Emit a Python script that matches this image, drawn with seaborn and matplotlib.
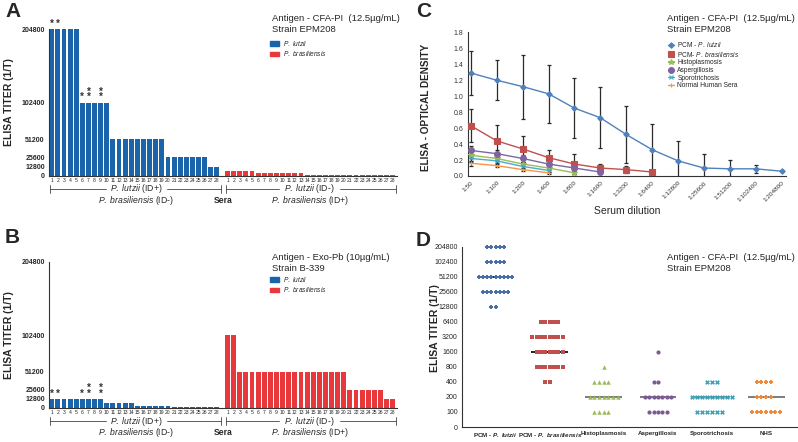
import numpy as np
import pandas as pd
import matplotlib
matplotlib.use("Agg")
import matplotlib.pyplot as plt
import seaborn as sns
from matplotlib.patches import Patch

# ---------------- data ----------------
sera_ids = list(range(1, 29))

# panel A (CFA-PI, EPM208) titers per serum
a_lutzii = [204800, 204800, 204800, 204800, 204800, 102400, 102400, 102400, 102400, 102400,
            51200, 51200, 51200, 51200, 51200, 51200, 51200, 51200, 51200,
            25600, 25600, 25600, 25600, 25600, 25600, 25600, 12800, 12800]
a_brasil = [6400, 6400, 6400, 6400, 6400, 3200, 3200, 3200, 3200, 3200, 3200, 3200, 3200,
            1600, 1600, 1600, 1600, 1600, 1600, 800, 800, 800, 800, 800, 800, 800, 800, 800]

# panel B (Exo-Pb, B-339) titers per serum
b_lutzii = [12800, 12800, 12800, 12800, 12800, 12800, 12800, 12800, 12800,
            6400, 6400, 6400, 6400, 6400, 3200, 3200, 3200, 3200, 3200, 3200,
            1600, 1600, 1600, 1600, 1600, 1600, 1600, 800]
b_brasil = [102400, 102400, 51200, 51200, 51200, 51200, 51200, 51200, 51200, 51200, 51200,
            51200, 51200, 51200, 51200, 51200, 51200, 51200, 51200, 51200,
            25600, 25600, 25600, 25600, 25600, 25600, 12800, 12800]

star_ids = [1, 2, 6, 7, 9]
star_counts = [1, 1, 1, 2, 2]

titer_ticks = [0, 12800, 25600, 51200, 102400, 204800]

# panel C optical density curves
dilutions = ['1:50', '1:100', '1:200', '1:400', '1:800', '1:1600', '1:3200', '1:6400',
             '1:12800', '1:25600', '1:51200', '1:102400', '1:204800']
od_lutzii = [1.29, 1.20, 1.12, 1.03, 0.85, 0.73, 0.52, 0.33, 0.19, 0.10, 0.09, 0.09, 0.06]
sd_lutzii = [0.27, 0.25, 0.40, 0.36, 0.38, 0.38, 0.36, 0.32, 0.25, 0.17, 0.11, 0.05, 0.0]
od_brasil = [0.63, 0.44, 0.34, 0.23, 0.15, 0.10, 0.08, 0.05]
sd_brasil = [0.21, 0.20, 0.16, 0.10, 0.13, 0.05, 0.04, 0.0]
od_histo = [0.26, 0.22, 0.15, 0.10, 0.04]
sd_histo = [0.04, 0.03, 0.03, 0.02, 0.02]
od_asper = [0.32, 0.28, 0.22, 0.15, 0.10, 0.05]
sd_asper = [0.05, 0.04, 0.04, 0.03, 0.03, 0.02]
od_sporo = [0.22, 0.19, 0.12, 0.07]
sd_sporo = [0.04, 0.03, 0.03, 0.02]
od_nhs = [0.16, 0.13, 0.08, 0.04]
sd_nhs = [0.03, 0.02, 0.02, 0.01]

# panel D: titer levels and how many sera sit on each level
d_groups = ['PCM - P. lutzii', 'PCM - P. brasiliensis', 'Histoplasmosis',
            'Aspergillosis', 'Sporotrichosis', 'NHS']
d_levels = [0, 100, 200, 400, 800, 1600, 3200, 6400, 12800, 25600, 51200, 102400, 204800]
d_counts = {
    'PCM - P. lutzii': {12800: 2, 25600: 7, 51200: 9, 102400: 5, 204800: 5},
    'PCM - P. brasiliensis': {400: 2, 800: 7, 1600: 7, 3200: 8, 6400: 5},
    'Histoplasmosis': {100: 4, 200: 7, 400: 4, 800: 1},
    'Aspergillosis': {100: 5, 200: 7, 400: 2, 1600: 1},
    'Sporotrichosis': {100: 6, 200: 9, 400: 3},
    'NHS': {100: 7, 200: 4, 400: 4},
}

# ---------------- style ----------------
sns.set_theme(style="white")
plt.rcParams['font.family'] = ['Liberation Sans', 'DejaVu Sans']
plt.rcParams['mathtext.fontset'] = 'custom'
plt.rcParams['mathtext.rm'] = 'Liberation Sans'
plt.rcParams['mathtext.it'] = 'Liberation Sans:italic'
plt.rcParams['mathtext.bf'] = 'Liberation Sans:bold'
plt.rcParams['mathtext.bfit'] = 'Liberation Sans:italic:bold'

BLUE = '#1964aa'
RED = '#e8383b'
W, H = 798, 442


def px_axes(fig, left, top, right, bottom):
    return fig.add_axes([left / W, 1 - bottom / H, (right - left) / W, (bottom - top) / H])


def style_axes(ax):
    sns.despine(ax=ax)
    for s in ['left', 'bottom']:
        ax.spines[s].set_linewidth(0.8)
        ax.spines[s].set_color('#333333')
    ax.tick_params(axis='both', length=2, width=0.6, color='#333333', pad=1)


fig = plt.figure(figsize=(W / 100, H / 100), dpi=100)

GAP = 28.75  # where the second serum group starts


def titer_bars(ax, blue_vals, red_vals, title, title_top, legend_top):
    pos1 = [i - 1 for i in sera_ids]
    pos2 = [GAP + i - 1 for i in sera_ids]
    df = pd.DataFrame({
        'pos': pos1 + pos2,
        'titer': blue_vals + red_vals,
        'species': ['P. lutzii'] * 28 + ['P. brasiliensis'] * 28,
    })
    sns.barplot(data=df, x='pos', y='titer', hue='species', native_scale=True,
                palette={'P. lutzii': BLUE, 'P. brasiliensis': RED}, saturation=1,
                width=0.8, dodge=False, legend=False, ax=ax, linewidth=0)
    ax.set_xlim(-0.45, GAP + 27.7)
    ax.set_ylim(0, 204800)
    ax.set_yticks(titer_ticks)
    ax.set_yticklabels([str(t) for t in titer_ticks], fontsize=5, fontweight='bold')
    ax.set_xticks(pos1 + pos2)
    ax.set_xticklabels([str(i) for i in sera_ids] * 2, fontsize=3.6)
    ax.set_xlabel('')
    ax.set_ylabel('ELISA TITER (1/T)', fontsize=7.5, fontweight='bold')
    ax.yaxis.set_label_coords(-0.1, 0.5)
    style_axes(ax)
    ax.tick_params(axis='x', length=1.2, pad=0.5)

    # asterisks above selected sera
    for sid, n in zip(star_ids, star_counts):
        ax.annotate('\n'.join(['*'] * n), (sid - 1, blue_vals[sid - 1]),
                    xytext=(0, 0.3), textcoords='offset points', ha='center', va='bottom',
                    fontsize=7, fontweight='bold', color='#333333', linespacing=0.45)

    # brackets under the sera numbers, broken where the label sits
    tr = ax.get_xaxis_transform()
    yl = -0.09
    y2 = yl - 0.08
    for start, mid in [(0, 13.8), (GAP, GAP + 13.4)]:
        x0, x1 = start - 0.3, start + 27.6
        for a, b in [(x0, mid - 5.0), (mid + 5.0, x1)]:
            ax.plot([a, b], [yl, yl], color='#444444', lw=0.6, transform=tr, clip_on=False)
        for xe in (x0, x1):
            ax.plot([xe, xe], [yl - 0.025, yl + 0.025], color='#444444', lw=0.6,
                    transform=tr, clip_on=False)
    lbl = dict(transform=tr, ha='center', va='center', fontsize=6.2, clip_on=False)
    ax.text(13.8, yl, r'$\it{P.\ lutzii}$ (ID+)', **lbl)
    ax.text(GAP + 13.4, yl, r'$\it{P.\ lutzii}$ (ID-)', **lbl)
    ax.text(13.8, y2, r'$\it{P.\ brasiliensis}$ (ID-)', **lbl)
    ax.text(GAP + 13.4, y2, r'$\it{P.\ brasiliensis}$ (ID+)', **lbl)
    ax.text(28.0, y2, 'Sera', fontweight='bold', **lbl)

    fig.text(272 / W, 1 - title_top / H, title, fontsize=6.8, va='top', linespacing=1.25)
    handles = [Patch(color=BLUE, label=r'$\it{P.\ lutzii}$'),
               Patch(color=RED, label=r'$\it{P.\ brasiliensis}$')]
    ax.legend(handles=handles, loc='upper left', bbox_to_anchor=(270 / W, 1 - legend_top / H),
              bbox_transform=fig.transFigure, frameon=False, fontsize=4.8,
              handlelength=1.4, handleheight=0.7, labelspacing=0.2, handletextpad=0.6,
              borderpad=0, borderaxespad=0)


# ---------------- panel A ----------------
axA = px_axes(fig, 49, 29.3, 397, 175.7)
titer_bars(axA, a_lutzii, a_brasil, 'Antigen - CFA-PI  (12.5µg/mL)\nStrain EPM208', 14, 39)

# ---------------- panel B ----------------
axB = px_axes(fig, 49, 262, 397, 408)
titer_bars(axB, b_lutzii, b_brasil, 'Antigen - Exo-Pb (10µg/mL)\nStrain B-339', 253, 275)

# ---------------- panel C ----------------
axC = px_axes(fig, 467.7, 32.3, 786, 176)
series = [
    ('PCM - ' + r'$\it{P.\ lutzii}$', od_lutzii, sd_lutzii, '#4f81bd', 'D', 2.8),
    ('PCM- ' + r'$\it{P.\ brasiliensis}$', od_brasil, sd_brasil, '#c0504d', 's', 4.2),
    ('Histoplasmosis', od_histo, sd_histo, '#9bbb59', '*', 4.2),
    ('Aspergillosis', od_asper, sd_asper, '#8064a2', 'o', 4.2),
    ('Sporotrichosis', od_sporo, sd_sporo, '#4bacc6', 'x', 3.2),
    ('Normal Human Sera', od_nhs, sd_nhs, '#f79646', '+', 3.5),
]
for name, od, sd, col, mk, ms in series:
    xi = np.arange(len(od))
    axC.errorbar(xi, od, yerr=sd, fmt='none', ecolor='#2a2a2a', elinewidth=0.9,
                 capsize=1.6, capthick=0.9, zorder=1)
    sns.lineplot(x=xi, y=od, ax=axC, color=col, marker=mk, markersize=ms, mec=col,
                 mew=0.8, lw=1.0, label=name, zorder=3)
axC.set_xlim(-0.12, 12.17)
axC.set_ylim(0, 1.8)
axC.set_yticks(np.arange(0, 1.81, 0.2))
axC.set_yticklabels([f'{v:.1f}' for v in np.arange(0, 1.81, 0.2)], fontsize=5, color='#333333')
axC.set_xticks(range(len(dilutions)))
axC.set_xticklabels(dilutions, fontsize=4.6, rotation=45, ha='right',
                    rotation_mode='anchor', color='#333333')
axC.set_xlabel('Serum dilution', fontsize=7.5, labelpad=2)
axC.set_ylabel('ELISA - OPTICAL DENSITY', fontsize=7.2, fontweight='bold')
axC.yaxis.set_label_coords(-0.115, 0.48)
style_axes(axC)
axC.legend(loc='upper left', bbox_to_anchor=(668 / W, 1 - 40 / H), bbox_transform=fig.transFigure,
           frameon=False, fontsize=4.8, handlelength=0.9, labelspacing=0.1, handletextpad=0.5,
           borderpad=0, borderaxespad=0)
fig.text(667 / W, 1 - 14 / H, 'Antigen - CFA-PI  (12.5µg/mL)\nStrain EPM208',
         fontsize=6.8, va='top', linespacing=1.25)

# ---------------- panel D ----------------
axD = px_axes(fig, 462, 246.7, 797, 427)
d_style = {
    'PCM - P. lutzii': ('#4a6ea8', 'P', 2.8, 'black'),
    'PCM - P. brasiliensis': ('#c0504d', 's', 3.0, 'black'),
    'Histoplasmosis': ('#9bbb59', '^', 3.2, '#666666'),
    'Aspergillosis': ('#7b5b93', 'o', 3.0, '#6a5a7a'),
    'Sporotrichosis': ('#3f9fb5', 'X', 3.4, '#4a8a99'),
    'NHS': ('#f08a3a', 'P', 3.2, '#666666'),
}
for gi, g in enumerate(d_groups):
    lev = []
    for level, n in d_counts[g].items():
        lev += [d_levels.index(level)] * n
    dfg = pd.DataFrame({'group': g, 'level': lev})
    col, mk, sz, mcol = d_style[g]
    axD.hlines(np.median(lev), gi - 0.34, gi + 0.34, color=mcol, lw=1.2, zorder=1)
    sns.swarmplot(data=dfg, x='group', y='level', order=d_groups, color=col, marker=mk,
                  size=sz, linewidth=0, ax=axD, zorder=2, clip_on=False)
axD.set_xlim(-0.62, 5.57)
axD.set_ylim(0, 12)
axD.set_yticks(range(len(d_levels)))
axD.set_yticklabels([str(v) for v in d_levels], fontsize=5)
axD.set_xticks(range(len(d_groups)))
axD.set_xticklabels([r'PCM - $\mathbfit{P.\ lutzii}$', r'PCM - $\mathbfit{P.\ brasiliensis}$',
                     'Histoplasmosis', 'Aspergillosis', 'Sporotrichosis', 'NHS'],
                    fontsize=4.5, fontweight='bold')
axD.set_xlabel('')
axD.set_ylabel('ELISA TITER (1/T)', fontsize=7.5, fontweight='bold')
axD.yaxis.set_label_coords(-0.065, 0.55)
style_axes(axD)
fig.text(667 / W, 1 - 253 / H, 'Antigen - CFA-PI  (12.5µg/mL)\nStrain EPM208',
         fontsize=6.8, va='top', linespacing=1.25)

# panel letters
for letter, x, y in [('A', 5, 2), ('C', 416, 2), ('B', 5, 228), ('D', 416, 231)]:
    fig.text(x / W, 1 - y / H, letter, fontsize=15, fontweight='bold', va='top')

fig.savefig('out.png', dpi=100)
